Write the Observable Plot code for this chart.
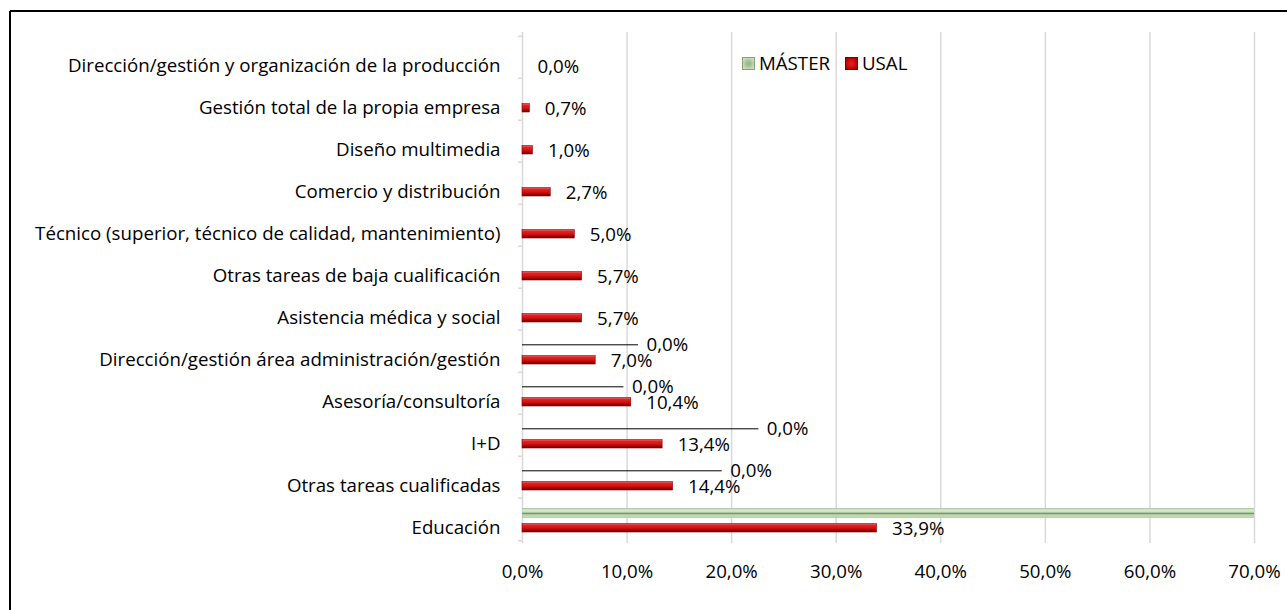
<!DOCTYPE html>
<html>
<head>
<meta charset="utf-8">
<script src="https://cdn.jsdelivr.net/npm/d3@7"></script>
<script src="https://cdn.jsdelivr.net/npm/@observablehq/plot@0.6"></script>
<style>
  html, body { margin: 0; padding: 0; background: #fff; }
  #wrap { position: relative; width: 1287px; height: 610px; overflow: hidden; font-family: "Open Sans", Lato, sans-serif; }
  .leg { position: absolute; top: 51px; font-size: 18.7px; line-height: 24px; color: #000; display: flex; align-items: center; white-space: nowrap; }
  .leg .sw { display: inline-block; width: 13px; height: 13px; margin-right: 4px; box-sizing: border-box; }
</style>
</head>
<body>
<div id="wrap">
  <div id="chart"></div>
  <div class="leg" style="left: 742px;"><span class="sw" style="background: radial-gradient(circle, #9db88f 20%, #c9e0bb 80%); border:1px solid #8aa07d;"></span>MÁSTER</div>
  <div class="leg" style="left: 845px;"><span class="sw" style="background: radial-gradient(circle, #e01818 20%, #b40000 80%); border:1px solid #7a0000;"></span>USAL</div>
</div>
<script>
// ---- data ----
const categories = [
  "Dirección/gestión y organización de la producción",
  "Gestión total de la propia empresa",
  "Diseño multimedia",
  "Comercio y distribución",
  "Técnico (superior, técnico de calidad, mantenimiento)",
  "Otras tareas de baja cualificación",
  "Asistencia médica y social",
  "Dirección/gestión área administración/gestión",
  "Asesoría/consultoría",
  "I+D",
  "Otras tareas cualificadas",
  "Educación"
];
const usalValues   = [0.0, 0.7, 1.0, 2.7, 5.0, 5.7, 5.7, 7.0, 10.4, 13.4, 14.4, 33.9];
const masterValues = [0, 0, 0, 0, 0, 0, 0, 0, 0, 0, 0, 100];
// MÁSTER zero labels moved away from the axis in the original (with leader lines)
const masterZeroLabelCats = ["Dirección/gestión área administración/gestión", "Asesoría/consultoría", "I+D", "Otras tareas cualificadas"];
const masterZeroLabelX = [11.1, 9.7, 22.6, 19.1];
const xTicks = [0, 10, 20, 30, 40, 50, 60, 70];

const usal = categories.map((c, i) => ({cat: c, value: usalValues[i]}));
const master = categories.map((c, i) => ({cat: c, value: masterValues[i]}));
const leaders = masterZeroLabelCats.map((c, i) => ({cat: c, x2: masterZeroLabelX[i], value: 0}));

const fmt = v => v.toFixed(1).replace(".", ",") + "%";

const band = (543 - 32) / categories.length; // ~42.6
const half = band / 2;

const chart = Plot.plot({
  width: 1287,
  height: 610,
  marginLeft: 522,
  marginRight: 33,
  marginTop: 32,
  marginBottom: 67,
  style: {fontFamily: "'Open Sans', Lato, sans-serif", fontSize: "18.7px", color: "#000", background: "#fff"},
  x: {domain: [0, 70], ticks: xTicks, tickFormat: fmt, label: null},
  y: {domain: categories, padding: 0, label: null},
  marks: [
    Plot.ruleX(xTicks, {stroke: "#d9d9d9", strokeWidth: 1.5}),
    // category boundary ticks
    Plot.ruleY(categories, {y: d => d, dy: -half, x1: -0.38, x2: 0, stroke: "#d9d9d9", strokeWidth: 1.5}),
    Plot.ruleY([categories[categories.length - 1]], {y: d => d, dy: half, x1: -0.38, x2: 0, stroke: "#d9d9d9", strokeWidth: 1.5}),
    // MÁSTER bars
    Plot.barX(master, {x: "value", y: "cat", insetTop: 10.3, insetBottom: 22.6, fill: "url(#gradGreen)", stroke: "#9fb894", strokeWidth: 0.6, clip: true}),
    // USAL bars
    Plot.barX(usal, {x: "value", y: "cat", insetTop: 25.6, insetBottom: 8, fill: "url(#gradRed)", stroke: "#8a0000", strokeWidth: 0.6}),
    // leader lines for MÁSTER 0,0% labels
    Plot.ruleY(leaders, {y: "cat", x1: 0, x2: "x2", dy: -6.7, stroke: "#000", strokeWidth: 1}),
    Plot.text(leaders, {y: "cat", x: "x2", text: d => fmt(d.value), dx: 8, dy: -6.7, textAnchor: "start", fill: "#000", fontSize: 18.7}),
    // USAL labels
    Plot.text(usal, {y: "cat", x: "value", text: d => fmt(d.value), dx: 15, dy: 9.5, textAnchor: "start", fill: "#000", fontSize: 18.7}),
    Plot.axisX({ticks: xTicks, tickFormat: fmt, tickSize: 0, tickPadding: 21, label: null}),
    Plot.axisY({tickSize: 0, tickPadding: 22, dy: 8.4, label: null})
  ]
});

// gradients for 3D-like bars
const svg = d3.select(chart);
const defs = svg.insert("defs", ":first-child");
const gr = defs.append("linearGradient").attr("id", "gradRed").attr("x1", 0).attr("y1", 0).attr("x2", 0).attr("y2", 1);
[[0, "#e86a6a"], [0.2, "#e02424"], [0.55, "#d01010"], [0.8, "#a00000"], [1, "#6e0000"]].forEach(([o, c]) => gr.append("stop").attr("offset", o).attr("stop-color", c));
const gg = defs.append("linearGradient").attr("id", "gradGreen").attr("x1", 0).attr("y1", 0).attr("x2", 0).attr("y2", 1);
[[0, "#c3dcb3"], [0.3, "#d9ecce"], [0.45, "#b9cfad"], [0.55, "#6f8c63"], [0.7, "#b8d2a9"], [1, "#c6dfb6"]].forEach(([o, c]) => gg.append("stop").attr("offset", o).attr("stop-color", c));

// outer frame (top and left edges visible)
svg.append("line").attr("x1", 10).attr("x2", 1287).attr("y1", 11).attr("y2", 11).attr("stroke", "#000").attr("stroke-width", 2);
svg.append("line").attr("x1", 10).attr("x2", 10).attr("y1", 11).attr("y2", 610).attr("stroke", "#000").attr("stroke-width", 2);

document.getElementById("chart").appendChild(chart);
</script>
</body>
</html>
